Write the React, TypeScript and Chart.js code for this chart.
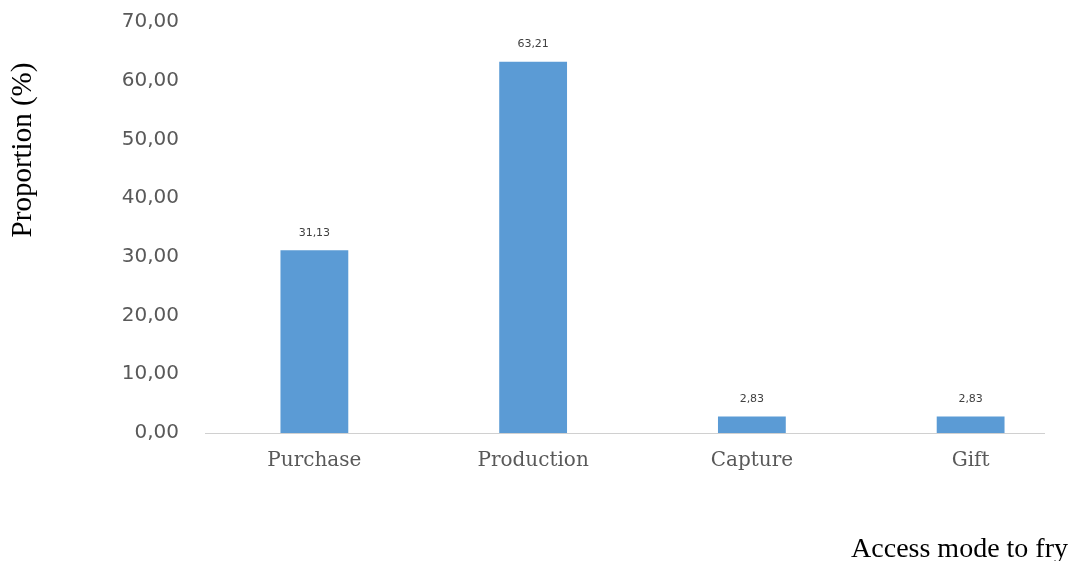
import React, { useEffect, useRef } from "react";
import { Chart, registerables } from "chart.js";

Chart.register(...registerables);

const categories = ["Purchase", "Production", "Capture", "Gift"];
const proportions = [31.13, 63.21, 2.83, 2.83];
const yTitle = "Proportion (%)";
const xTitle = "Access mode to fry";

const fmt = (v: number) => v.toFixed(2).replace(".", ",");

const labelsPlugin = {
  id: "customLabels",
  afterDatasetsDraw(chart: any) {
    const ctx = chart.ctx;
    const meta = chart.getDatasetMeta(0);
    ctx.save();
    ctx.fillStyle = "#404040";
    ctx.font = "11px 'DejaVu Sans'";
    ctx.textAlign = "center";
    ctx.textBaseline = "bottom";
    meta.data.forEach((bar: any, i: number) => {
      ctx.fillText(fmt(proportions[i]), bar.x, bar.y - 12);
    });
    ctx.restore();
  },
  afterDraw(chart: any) {
    const ctx = chart.ctx;
    const { chartArea } = chart;
    ctx.save();
    // x axis line
    ctx.strokeStyle = "#d0d0d0";
    ctx.lineWidth = 1;
    ctx.beginPath();
    ctx.moveTo(chartArea.left, Math.round(chartArea.bottom) + 0.5);
    ctx.lineTo(chartArea.right - 35, Math.round(chartArea.bottom) + 0.5);
    ctx.stroke();
    // y title
    ctx.fillStyle = "#000000";
    ctx.font = "29px 'Liberation Serif'";
    ctx.textAlign = "center";
    ctx.textBaseline = "middle";
    ctx.translate(23, 150);
    ctx.rotate(-Math.PI / 2);
    ctx.fillText(yTitle, 0, 0);
    ctx.restore();
    ctx.save();
    ctx.fillStyle = "#000000";
    ctx.font = "28px 'Liberation Serif'";
    ctx.textAlign = "right";
    ctx.textBaseline = "alphabetic";
    ctx.fillText(xTitle, 1068, 557);
    ctx.restore();
  },
};

export default function App() {
  const ref = useRef<HTMLCanvasElement>(null);
  useEffect(() => {
    if (!ref.current) return;
    const chart = new Chart(ref.current, {
      type: "bar",
      data: {
        labels: categories,
        datasets: [
          {
            data: proportions,
            backgroundColor: "#5B9BD5",
            barPercentage: 0.31,
            categoryPercentage: 1,
          },
        ],
      },
      options: {
        responsive: false,
        animation: false,
        layout: { padding: { top: 22, right: 1, bottom: 0, left: 0 } },
        plugins: { legend: { display: false }, tooltip: { enabled: false } },
        scales: {
          x: {
            grid: { display: false, drawTicks: false },
            border: { display: false },
            ticks: {
              color: "#595959",
              font: { family: "'DejaVu Serif'", size: 20 },
              padding: 16,
            },
            afterFit(scale: any) {
              scale.height = 128;
              scale.paddingLeft = 0;
              scale.paddingRight = 0;
            },
          },
          y: {
            min: 0,
            max: 70,
            grid: { display: false, drawTicks: false },
            border: { display: false },
            ticks: {
              stepSize: 10,
              color: "#595959",
              font: { family: "'DejaVu Sans'", size: 20 },
              padding: 26,
              callback: (v: any) => fmt(Number(v)),
            },
            afterFit(scale: any) {
              scale.width = 205;
              scale.paddingTop = 0;
              scale.paddingBottom = 0;
            },
          },
        },
      },
      plugins: [labelsPlugin],
    });
    return () => chart.destroy();
  }, []);
  return (
    <div style={{ position: "fixed", left: 0, top: 0, width: 1073, height: 561, overflow: "hidden", background: "#fff" }}>
      <canvas ref={ref} width={1081} height={561} style={{ display: "block" }} />
    </div>
  );
}
